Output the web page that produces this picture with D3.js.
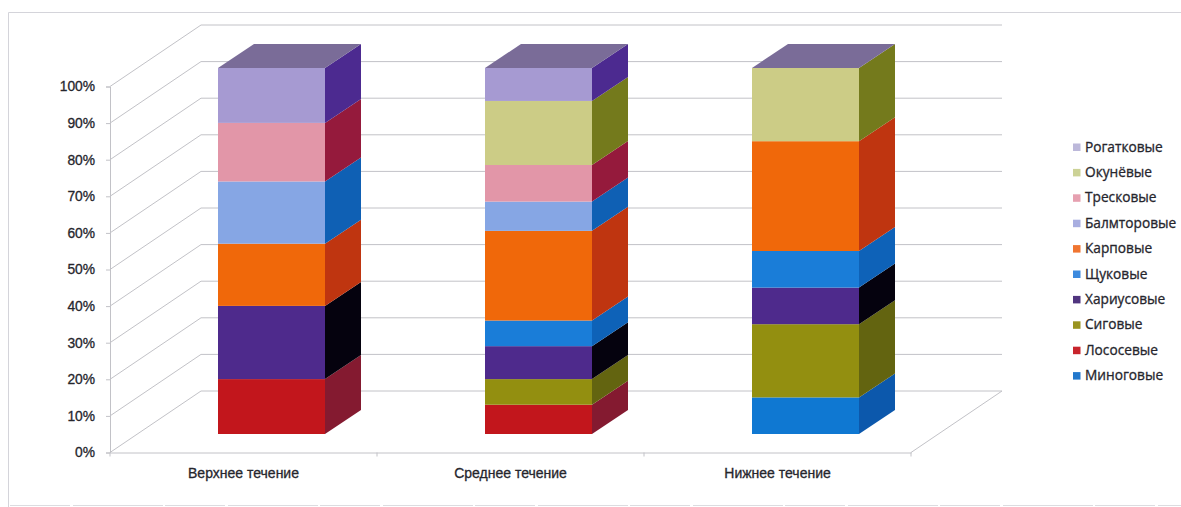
<!DOCTYPE html>
<html lang="ru">
<head>
<meta charset="utf-8">
<title>Состав рыб по течению</title>
<script src="https://cdnjs.cloudflare.com/ajax/libs/d3/7.8.5/d3.min.js"></script>
<style>
  html, body { margin: 0; padding: 0; background: #fff; }
  svg { display: block; font-family: "Open Sans", "Noto Sans", sans-serif; }
  .tick-label, .cat-label, .legend-label { fill: #26262d; stroke: #26262d; stroke-width: 0.3px; font-weight: 400; }
  .tick-label { font-size: 13.8px; }
  .cat-label { font-size: 14px; }
  .legend-label { font-size: 13.7px; }
</style>
</head>
<body>
<svg id="chart" width="1181" height="507"></svg>
<script>
// Reaches of the river along the category axis
const reaches = ["Верхнее течение", "Среднее течение", "Нижнее течение"];

// Families in stacking order, bottom to top
const families = ["Миноговые", "Лососевые", "Сиговые", "Хариусовые", "Щуковые",
                  "Карповые", "Балмторовые", "Тресковые", "Окунёвые", "Рогатковые"];

// Share of each family per reach, in percent
const minogovye   = [0, 0, 10];
const lososevye   = [15, 8, 0];
const sigovye     = [0, 7, 20];
const hariusovye  = [20, 9, 10];
const shchukovye  = [0, 7, 10];
const karpovye    = [17, 24.5, 30];
const balmtorovye = [17, 8, 0];
const treskovye   = [16, 10, 0];
const okunevye    = [0, 17.5, 20];
const rogatkovye  = [15, 9, 0];
const shares = [minogovye, lososevye, sigovye, hariusovye, shchukovye,
                karpovye, balmtorovye, treskovye, okunevye, rogatkovye];

// Face colours per family: front, side, legend swatch
const frontColors = ["#0f78d2", "#c2161c", "#938f10", "#4e2a8c", "#1a7dd8",
                     "#f0680a", "#86a6e4", "#e296a8", "#cccc86", "#a69ad2"];
const sideColors  = ["#0c58ac", "#841a30", "#636410", "#05020e", "#0e62b8",
                     "#bf3510", "#0f60b4", "#951a3c", "#747a1c", "#4c2a90"];
const swatchColors = ["#2278cc", "#c8242c", "#9a9420", "#50357f", "#3c8ade",
                      "#f07530", "#a8aee0", "#e6a0b0", "#ccd296", "#bcb8da"];
const topColor = "#7a6c98";

const yTicks = [0, 10, 20, 30, 40, 50, 60, 70, 80, 90, 100];

// Oblique projection: the front plane of the box, and how far back each depth sits
const plotLeft = 110, plotRight = 911, plotBottom = 452.5, plotTop = 86.5;
const wallDx = 91, wallDy = -61.5;
const barShiftX = 28, barShiftY = -18.5;
const barDx = 36, barDy = -24;

const x = d3.scaleBand().domain(reaches).range([plotLeft, plotRight]).paddingInner(0).paddingOuter(0);
const y = d3.scaleLinear().domain([0, 100]).range([plotBottom, plotTop]);
const barWidth = 107;

const svg = d3.select("#chart");

// Frame around the chart area
svg.append("path")
  .attr("d", "M8.5,507V12.5H1181")
  .attr("fill", "none").attr("stroke", "#d4d4da").attr("stroke-width", 1);
svg.append("line")
  .attr("x1", 10).attr("x2", 1181).attr("y1", 505.5).attr("y2", 505.5)
  .attr("stroke", "#dcdce0").attr("stroke-width", 1).attr("stroke-dasharray", "60 3 90 2");

// Gridlines: along the side wall, then across the back wall
const grid = svg.append("g").attr("fill", "none").attr("stroke", "#c2c2c7").attr("stroke-width", 1);
yTicks.forEach(t => {
  grid.append("path").attr("d", d3.line()([
    [plotLeft, y(t)],
    [plotLeft + wallDx, y(t) + wallDy],
    [plotRight + wallDx, y(t) + wallDy]
  ]));
});
// Floor edge on the right, running to the back wall
grid.append("line")
  .attr("x1", plotRight).attr("y1", plotBottom)
  .attr("x2", plotRight + wallDx).attr("y2", plotBottom + wallDy);

// Value axis
const yAxis = svg.append("g")
  .attr("transform", `translate(${plotLeft},0)`)
  .call(d3.axisLeft(y).tickValues(yTicks).tickFormat(d => d + "%").tickSize(4).tickPadding(11));
yAxis.select(".domain").attr("stroke", "#c2c2c7");
yAxis.selectAll(".tick line").attr("stroke", "#c2c2c7");
yAxis.selectAll(".tick text").attr("class", "tick-label").attr("fill", null).style("font-family", "inherit");

// Category axis
const xAxis = svg.append("g")
  .attr("transform", `translate(0,${plotBottom})`)
  .call(d3.axisBottom(x).tickSizeOuter(0).tickSize(0).tickPadding(16));
xAxis.select(".domain").attr("stroke", "#c2c2c7");
xAxis.selectAll(".tick text").attr("class", "cat-label").attr("fill", null).style("font-family", "inherit");
const xEdges = svg.append("g").attr("stroke", "#c2c2c7");
[0, 1, 2, 3].forEach(i => {
  const px = plotLeft + i * x.step();
  xEdges.append("line").attr("x1", px).attr("x2", px).attr("y1", plotBottom).attr("y2", plotBottom + 4);
});

// Stacked 3D columns
const bars = svg.append("g");
reaches.forEach((reach, ci) => {
  const left = x(reach) + (x.step() - barWidth) / 2 + barShiftX;
  const right = left + barWidth;
  let running = 0;
  families.forEach((fam, fi) => {
    const v = shares[fi][ci];
    if (!v) return;
    const y0 = y(running) + barShiftY;
    const y1 = y(running + v) + barShiftY;
    running += v;
    bars.append("rect")
      .attr("x", left).attr("y", y1).attr("width", barWidth).attr("height", y0 - y1)
      .attr("fill", frontColors[fi]);
    bars.append("path")
      .attr("d", d3.line()([[right, y0], [right + barDx, y0 + barDy], [right + barDx, y1 + barDy], [right, y1]]) + "Z")
      .attr("fill", sideColors[fi]);
  });
  const yTopFace = y(running) + barShiftY;
  bars.append("path")
    .attr("d", d3.line()([[left, yTopFace], [left + barDx, yTopFace + barDy],
                          [right + barDx, yTopFace + barDy], [right, yTopFace]]) + "Z")
    .attr("fill", topColor);
});

// Legend, top entry first
const legendTop = 147, legendStep = 25.4;
const legendFamilies = families.slice().reverse();
const legendSwatches = swatchColors.slice().reverse();
const legendY = d3.scalePoint().domain(legendFamilies)
  .range([legendTop, legendTop + legendStep * (legendFamilies.length - 1)]);
const legend = svg.append("g");
legendFamilies.forEach((fam, i) => {
  const cy = legendY(fam);
  legend.append("rect").attr("x", 1073).attr("y", cy - 3.5).attr("width", 7.5).attr("height", 7.5).attr("fill", legendSwatches[i]);
  legend.append("text").attr("class", "legend-label").attr("x", 1085).attr("y", cy + 4.5).text(fam);
});
</script>
</body>
</html>
